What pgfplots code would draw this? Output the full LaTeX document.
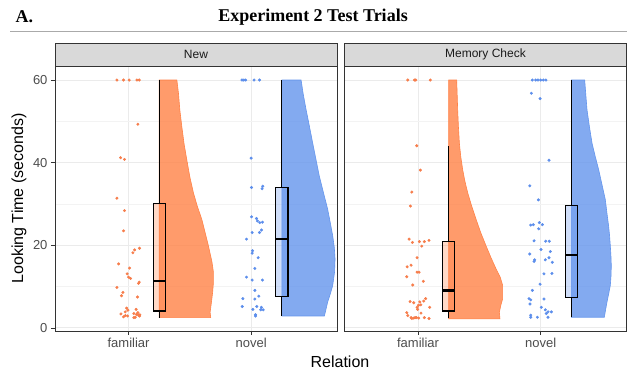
\documentclass[border=0pt]{standalone}
\usepackage{fontspec}
\setmainfont{Liberation Sans}
\newfontfamily\timesfont{Liberation Serif}
\usepackage{pgfplots}
\pgfplotsset{compat=1.18}

\definecolor{sienna}{RGB}{255,130,71}
\definecolor{cblue}{RGB}{100,149,237}
\definecolor{ptor}{RGB}{247,125,75}
\definecolor{ptbl}{RGB}{92,142,236}
\definecolor{gmaj}{RGB}{235,235,235}
\definecolor{gmin}{RGB}{243,243,243}
\definecolor{g20}{RGB}{51,51,51}
\definecolor{g30}{RGB}{77,77,77}
\definecolor{g85}{RGB}{217,217,217}

\pgfplotsset{panel/.style={
  width=282pt, height=265pt, scale only axis,
  xmin=0.4, xmax=2.7, ymin=-0.73, ymax=63.4,
  xtick={1,2}, xticklabels={familiar,novel},
  ytick={0,20,40,60}, minor ytick={10,30,50},
  grid=both,
  major grid style={gmaj, line width=1pt},
  minor grid style={gmin, line width=0.5pt},
  axis line style={g20, line width=0.8pt},
  tick align=outside, tick pos=left, major tick length=4pt, minor tick length=0pt,
  tick style={g20, line width=0.8pt},
  tick label style={font=\fontsize{13}{15}\selectfont, text=g30},
  /pgf/number format/assume math mode=true,
  clip=false,
}}

\begin{document}
\begin{tikzpicture}[x=1pt,y=1pt]
\useasboundingbox[fill=white] (0,0) rectangle (627,371);

% titles
\node[anchor=west, font=\timesfont\bfseries\fontsize{18}{20}\selectfont] at (12,354) {A.};
\node[font=\timesfont\bfseries\fontsize{18}{20}\selectfont] at (313,354) {Experiment 2 Test Trials};
\draw[color={rgb,255:red,170;green,170;blue,170}, line width=1pt] (10,339) -- (627,339);

% ---------------- Left panel: New ----------------
\begin{axis}[panel, at={(55pt,40pt)}, anchor=south west]
% points
\addplot[only marks, mark=*, mark size=1.3pt, color=ptor, mark options={draw=none, fill=ptor}] coordinates {
(0.905,60) (0.959,60) (1.005,60) (1.068,60) (1.087,60)
(1.076,49.3) (0.935,41.2) (0.967,40.8) (0.905,31.4) (0.967,28.4)
(0.959,23.5) (1.089,19.3) (1.049,18.9) (1.035,18.2) (0.919,15.5)
(1.008,14.5) (0.989,13.1) (1.000,12.3) (1.016,12.0) (1.087,11.1)
(1.081,10.8) (0.905,9.8) (0.954,8.6) (0.943,7.8) (1.073,7.5)
(0.984,4.8) (1.062,4.5) (0.938,3.4) (0.973,3.0) (0.992,2.9)
(0.959,2.7) (1.043,3.5) (1.065,3.3) (1.081,3.1) (1.092,3.2)
(1.054,2.6) (1.043,2.5) (1.089,2.9) (0.973,3.9) (0.995,4.3) (1.076,3.7)};
\addplot[only marks, mark=*, mark size=1.3pt, color=ptbl, mark options={draw=none, fill=ptbl}] coordinates {
(1.925,60) (1.940,60) (1.955,60) (2.024,60) (2.068,60)
(2.000,41.1) (2.003,34.0) (2.095,34.3) (2.089,33.7)
(2.003,26.9) (2.043,26.5) (2.051,25.9) (2.070,25.5) (2.092,25.6)
(2.008,23.1) (2.068,23.1) (2.084,23.7) (1.962,21.5) (2.011,18.7)
(2.008,18.1) (2.057,17.0) (2.030,14.4) (1.962,12.3) (2.008,11.6)
(2.092,11.6) (2.030,9.1) (2.062,7.7) (1.932,7.1) (2.030,7.0)
(1.927,5.2) (2.046,5.2) (2.014,4.5) (2.084,5.0) (2.078,4.4)
(2.098,4.4) (2.035,3.2) (2.035,2.9)};
% violins
\addplot[draw=sienna, line width=0.6pt, fill=sienna, fill opacity=0.8] coordinates {
(1.25,2.5) (1.670,2.5) (1.665,3.8) (1.675,6) (1.686,8.7) (1.692,11) (1.692,13.5)
(1.680,16) (1.651,19.9) (1.625,23) (1.597,26.3) (1.560,29.5) (1.529,32.7)
(1.500,36.5) (1.475,40.7) (1.453,44.5) (1.434,48.8) (1.418,52.8) (1.407,56.8)
(1.394,60) (1.25,60)} -- cycle;
\addplot[draw=cblue, line width=0.6pt, fill=cblue, fill opacity=0.8] coordinates {
(2.25,2.9) (2.597,2.9) (2.610,4.5) (2.624,6.3) (2.648,8.5) (2.665,10.3) (2.680,13.5)
(2.684,16.7) (2.678,19.5) (2.665,22.3) (2.645,25.5) (2.624,28.7) (2.590,32.7)
(2.556,36.7) (2.529,40.7) (2.502,44.7) (2.475,48.8) (2.448,52.8) (2.425,56.5)
(2.407,60) (2.25,60)} -- cycle;
% boxplots
\addplot[black, line width=1.1pt] coordinates {(1.25,2.5) (1.25,4.1)};
\addplot[black, line width=1.1pt] coordinates {(1.25,30.2) (1.25,60)};
\addplot[draw=black, line width=1.1pt, fill=sienna, fill opacity=0.3] coordinates {(1.2,4.1) (1.3,4.1) (1.3,30.2) (1.2,30.2)} -- cycle;
\addplot[black, line width=2.4pt] coordinates {(1.2,11.3) (1.3,11.3)};
\addplot[black, line width=1.1pt] coordinates {(2.25,2.9) (2.25,7.6)};
\addplot[black, line width=1.1pt] coordinates {(2.25,33.9) (2.25,60)};
\addplot[draw=black, line width=1.1pt, fill=cblue, fill opacity=0.3] coordinates {(2.2,7.6) (2.3,7.6) (2.3,33.9) (2.2,33.9)} -- cycle;
\addplot[black, line width=2.4pt] coordinates {(2.2,21.5) (2.3,21.5)};
\end{axis}

% ---------------- Right panel: Memory Check ----------------
\begin{axis}[panel, at={(344.5pt,40pt)}, anchor=south west, yticklabels={}, ytick style={draw=none}]
\addplot[only marks, mark=*, mark size=1.3pt, color=ptor, mark options={draw=none, fill=ptor}] coordinates {
(0.916,60) (0.970,60) (0.981,60) (1.100,60)
(0.989,44.1) (1.019,38.2) (0.949,32.9) (0.938,29.5)
(0.927,21.5) (0.954,20.7) (1.011,20.9) (1.051,20.9) (1.089,21.2)
(1.030,19.8) (0.992,17.0) (0.943,15.2) (0.911,14.8) (0.992,13.5)
(1.008,13.5) (0.908,12.4) (1.043,11.3) (0.957,10.4) (1.062,7.1)
(1.046,6.5) (0.935,6.4) (0.965,6.1) (1.014,6.3) (1.003,5.5)
(0.992,5.0) (1.095,5.0) (0.908,3.7) (0.943,2.5) (0.976,2.5)
(0.949,2.3) (0.965,2.4) (0.986,2.5) (1.005,2.4) (1.051,2.5)
(1.089,2.3) (1.024,3.6) (0.916,3.0) (0.997,4.5) (1.022,5.6)};
\addplot[only marks, mark=*, mark size=1.3pt, color=ptbl, mark options={draw=none, fill=ptbl}] coordinates {
(1.932,60) (1.959,60) (1.978,60) (2.000,60) (2.022,60) (2.043,60)
(1.924,56.8) (1.995,55.5) (2.068,40.6) (1.911,34.4) (1.981,31.0)
(1.919,24.9) (1.940,25.0) (1.989,25.5) (2.014,25.0) (1.984,24.0)
(1.946,21.1) (2.041,21.0) (2.070,21.0) (2.003,19.0) (1.911,17.9)
(2.079,18.5) (2.068,17.0) (1.951,16.5) (1.946,16.1) (2.038,16.5)
(2.095,15.9) (2.027,13.1) (2.092,13.2) (1.995,10.6) (1.932,9.1)
(1.905,7.1) (1.919,6.8) (2.027,7.0) (1.913,5.8) (2.005,5.0)
(2.038,4.4) (2.060,3.9) (2.087,3.9) (1.919,3.1) (1.919,2.6)
(1.973,2.6) (2.060,2.6) (2.046,3.5)};
\addplot[draw=sienna, line width=0.6pt, fill=sienna, fill opacity=0.8] coordinates {
(1.25,2.2) (1.668,2.2) (1.663,3.8) (1.675,5.5) (1.690,7.1) (1.690,10.3) (1.670,12.3)
(1.636,14.3) (1.595,17) (1.554,19.9) (1.512,23) (1.473,26.3) (1.437,29.5)
(1.405,32.7) (1.382,35.5) (1.364,38.3) (1.348,41.5) (1.337,44.7) (1.329,48.8)
(1.323,52.8) (1.319,56.5) (1.315,60) (1.25,60)} -- cycle;
\addplot[draw=cblue, line width=0.6pt, fill=cblue, fill opacity=0.8] coordinates {
(2.25,2.6) (2.519,2.6) (2.530,4.5) (2.541,6.3) (2.555,8.3) (2.568,10.3) (2.574,12.7)
(2.576,15.1) (2.573,17.5) (2.568,19.9) (2.562,22.3) (2.554,24.7) (2.540,27.9)
(2.527,31.1) (2.500,34.7) (2.473,38.3) (2.445,41.5) (2.419,44.7) (2.397,48.8)
(2.378,52.8) (2.368,56.5) (2.359,60) (2.25,60)} -- cycle;
\addplot[black, line width=1.1pt] coordinates {(1.25,2.4) (1.25,4.1)};
\addplot[black, line width=1.1pt] coordinates {(1.25,20.9) (1.25,44.1)};
\addplot[draw=black, line width=1.1pt, fill=sienna, fill opacity=0.3] coordinates {(1.2,4.1) (1.3,4.1) (1.3,20.9) (1.2,20.9)} -- cycle;
\addplot[black, line width=2.4pt] coordinates {(1.2,9.1) (1.3,9.1)};
\addplot[black, line width=1.1pt] coordinates {(2.25,2.6) (2.25,7.3)};
\addplot[black, line width=1.1pt] coordinates {(2.25,29.7) (2.25,60)};
\addplot[draw=black, line width=1.1pt, fill=cblue, fill opacity=0.3] coordinates {(2.2,7.3) (2.3,7.3) (2.3,29.7) (2.2,29.7)} -- cycle;
\addplot[black, line width=2.4pt] coordinates {(2.2,17.6) (2.3,17.6)};
\end{axis}

% strips
\draw[fill=g85, draw=g20, line width=0.8pt] (55,305) rectangle (337,328);
\draw[fill=g85, draw=g20, line width=0.8pt] (344.5,305) rectangle (626.5,328);
\node[font=\fontsize{12}{14}\selectfont, text={rgb,255:red,26;green,26;blue,26}] at (196,316.5) {New};
\node[font=\fontsize{12}{14}\selectfont, text={rgb,255:red,26;green,26;blue,26}] at (485.5,316.5) {Memory Check};

% axis titles
\node[font=\fontsize{16}{18}\selectfont, inner sep=1pt] at (340,9.5) {Relation};
\node[font=\fontsize{16}{18}\selectfont, rotate=90] at (19,172.5) {Looking Time (seconds)};
\end{tikzpicture}
\end{document}
